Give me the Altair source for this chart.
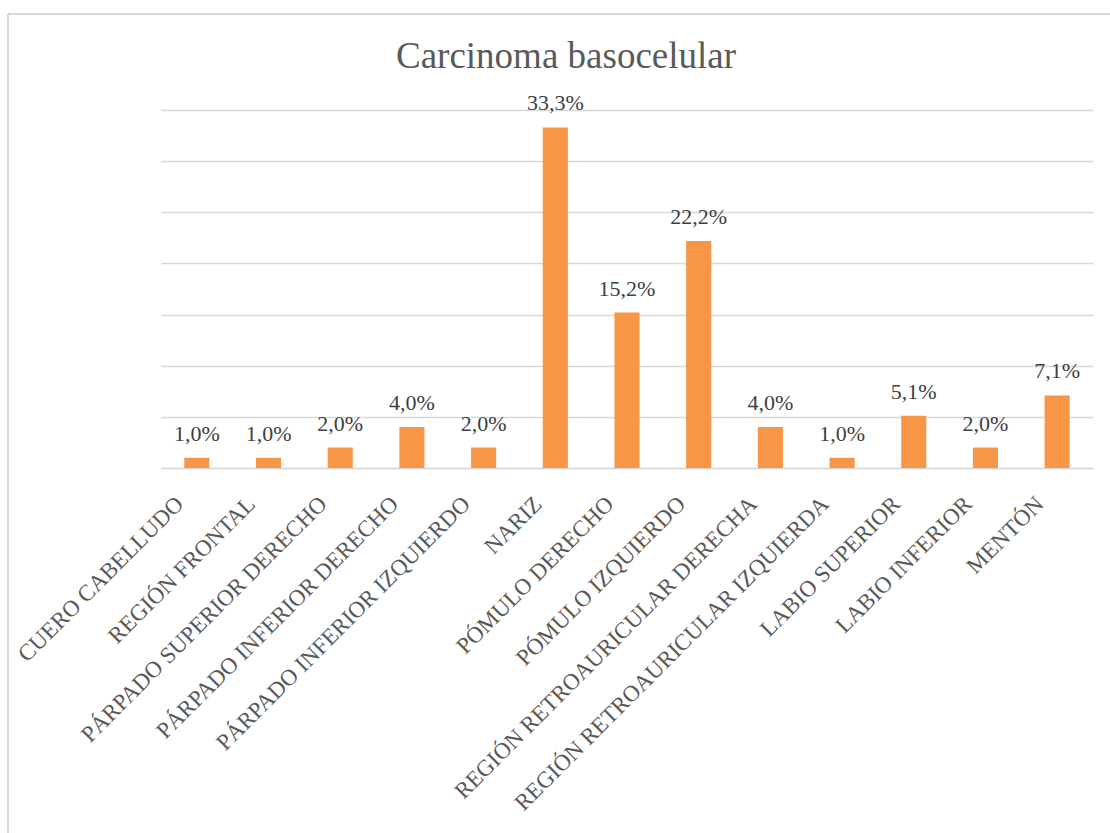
import altair as alt
import pandas as pd

# Localización del carcinoma basocelular (% de casos)
regiones = [
    "CUERO CABELLUDO",
    "REGIÓN FRONTAL",
    "PÁRPADO SUPERIOR DERECHO",
    "PÁRPADO INFERIOR DERECHO",
    "PÁRPADO INFERIOR IZQUIERDO",
    "NARIZ",
    "PÓMULO DERECHO",
    "PÓMULO IZQUIERDO",
    "REGIÓN RETROAURICULAR DERECHA",
    "REGIÓN RETROAURICULAR IZQUIERDA",
    "LABIO SUPERIOR",
    "LABIO INFERIOR",
    "MENTÓN",
]
porcentajes = [1.0, 1.0, 2.0, 4.0, 2.0, 33.3, 15.2, 22.2, 4.0, 1.0, 5.1, 2.0, 7.1]
marcas_y = [0, 5, 10, 15, 20, 25, 30, 35]

df = pd.DataFrame({"region": regiones, "pct": porcentajes})
df["etiqueta"] = [f"{v:.1f}".replace(".", ",") + "%" for v in porcentajes]

SERIF = "Liberation Serif"
GRIS = "#595959"
LINEA = "#D9D9D9"

x_enc = alt.X(
    "region:N",
    sort=regiones,
    scale=alt.Scale(paddingInner=0.65, paddingOuter=0.325),
    axis=alt.Axis(
        title=None,
        labelAngle=-45,
        labelAlign="right",
        labelBaseline="middle",
        labelFont=SERIF,
        labelFontSize=23,
        labelColor=GRIS,
        labelPadding=32,
        labelOffset=-17,
        labelOverlap=False,
        labelLimit=1000,
        ticks=False,
        tickSize=0,
        domainColor=LINEA,
        domainWidth=1.3,
        grid=False,
    ),
)
y_enc = alt.Y(
    "pct:Q",
    scale=alt.Scale(domain=[0, 35], nice=False, zero=True),
    axis=alt.Axis(
        title=None,
        values=marcas_y,
        labels=False,
        ticks=False,
        domain=False,
        grid=True,
        gridColor=LINEA,
        gridWidth=1.3,
    ),
)

base = alt.Chart(df)

barras = base.mark_bar(color="#F79646").encode(x=x_enc, y=y_enc)

etiquetas = base.mark_text(
    font=SERIF,
    fontSize=22,
    color="#404040",
    baseline="alphabetic",
    align="center",
    dy=-17,
).encode(x=alt.X("region:N", sort=regiones), y="pct:Q", text="etiqueta:N")

# Chart frame (left and top edges)
marco_izq = base.mark_rule(color=LINEA, strokeWidth=1.3).encode(
    x=alt.value(-153), y=alt.value(-96), y2=alt.value(723)
)
marco_sup = base.mark_rule(color=LINEA, strokeWidth=1.3).encode(
    x=alt.value(-153), x2=alt.value(949), y=alt.value(-96)
)

chart = (
    alt.layer(barras, etiquetas, marco_izq, marco_sup)
    .properties(
        width=932,
        height=358,
        title=alt.TitleParams(
            "Carcinoma basocelular",
            font=SERIF,
            fontSize=37,
            fontWeight="normal",
            color=GRIS,
            anchor="middle",
            baseline="alphabetic",
            offset=0,
            dx=-61,
            dy=92,
        ),
        autosize=alt.AutoSizeParams(type="none"),
        padding={"left": 161, "top": 110, "right": 17, "bottom": 365},
        background="white",
    )
    .configure_view(stroke=None)
)

chart.save("out.html", embed_options={"renderer": "svg", "actions": False})
